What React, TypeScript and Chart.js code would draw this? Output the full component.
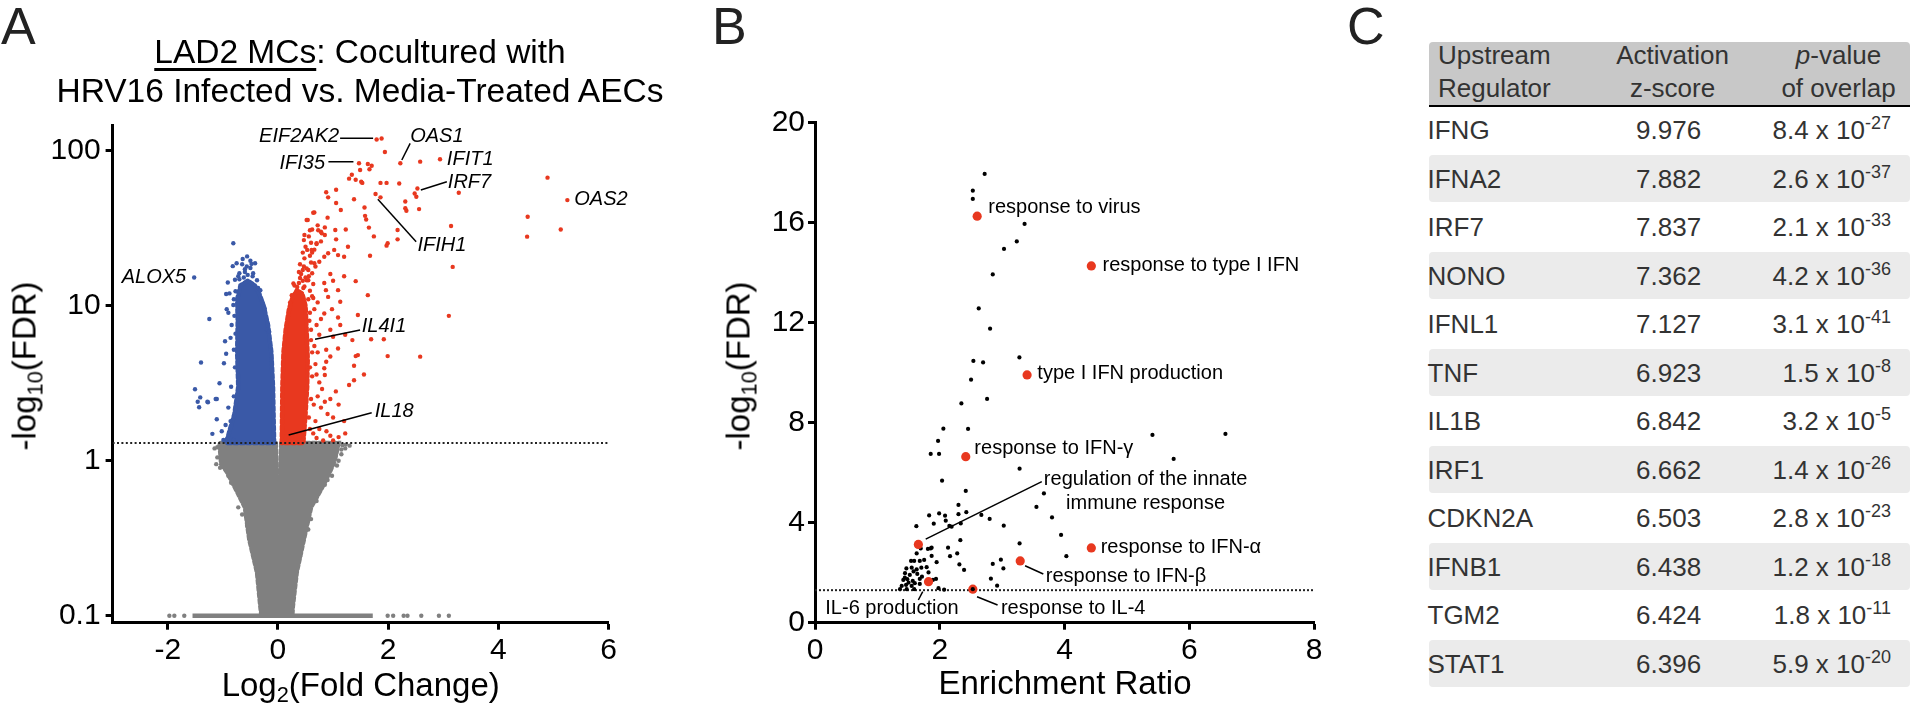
import React, { useEffect, useRef } from 'react';
import { Chart, registerables } from 'chart.js';

Chart.register(...registerables);

const FONT = "'Liberation Sans', Arial, Helvetica, sans-serif";
const RED = '#e8381f';
const BLUE = '#3a59a7';
const GRAY = '#808080';
const INK = '#000';

type Pt = [number, number];
type Label = { text: string; x: number; y: number; align: CanvasTextAlign };

// ---------------- Panel A : volcano plot ----------------
const volcanoXTicks = [-2, 0, 2, 4, 6];
const volcanoYTicks = [0.1, 1, 10, 100];
const fdrCutoff = 1.301;

// dense clouds (outline of the overlapping points)
const grayCloudLeft: Pt[] = [[-0.04, 1.3], [-0.02, 0.7], [0, 0.28], [0, 0.1], [-0.3, 0.1], [-0.32, 0.115], [-0.38, 0.19], [-0.52, 0.31], [-0.6, 0.5], [-0.76, 0.65], [-0.93, 0.85], [-1.03, 0.95], [-1.06, 1.3]];
const grayCloudRight: Pt[] = [[0.06, 1.3], [0.03, 0.7], [0, 0.28], [0, 0.1], [0.26, 0.1], [0.27, 0.115], [0.34, 0.19], [0.47, 0.31], [0.6, 0.5], [0.78, 0.65], [0.93, 0.83], [1.03, 1.0], [1.1, 1.3]];
const grayFloorRow: Pt[] = [[-1.55, 0.1], [1.72, 0.1]];
const blueCloud: Pt[] = [[-0.07, 1.3], [-0.09, 3], [-0.12, 5], [-0.18, 7.5], [-0.26, 10], [-0.34, 12], [-0.42, 13.5], [-0.55, 14.5], [-0.68, 13.5], [-0.74, 11], [-0.73, 8], [-0.74, 5], [-0.72, 3], [-0.79, 2], [-0.87, 1.6], [-0.94, 1.3]];
const redCloud: Pt[] = [[0.07, 1.3], [0.08, 3], [0.1, 5], [0.14, 7], [0.2, 9.5], [0.27, 11.5], [0.35, 12.5], [0.44, 12], [0.5, 10], [0.52, 7], [0.54, 4.5], [0.53, 3], [0.5, 2], [0.46, 1.3]];

// individual genes
const notSignificantGenes: Pt[] = [[-1.97, 0.1], [-1.88, 0.1], [-1.7, 0.1], [1.99, 0.1], [2.09, 0.1], [2.28, 0.1], [2.35, 0.1], [2.6, 0.1], [2.92, 0.1], [3.1, 0.1], [-1.12, 0.95], [-1.05, 0.9], [-0.98, 0.92], [-1.1, 1.05], [-1.15, 1.2], [-0.9, 0.8], [-0.85, 0.72], [-0.7, 0.6], [-0.65, 0.45], [1.3, 1.25], [1.22, 1.2], [1.15, 1.1], [1.1, 1.0], [1.07, 0.93], [0.98, 0.8], [0.9, 0.75], [0.85, 0.7], [0.7, 0.55], [0.6, 0.42], [0.55, 0.36], [0.84, 0.77], [1.17, 1.26], [1.23, 1.27], [-1.1, 1.22], [-1.0, 1.15], [1.15, 1.18], [-0.56, 0.38], [-0.45, 0.25], [0.4, 0.24], [-0.72, 0.5]];
const downGenes: Pt[] = [
  [-0.81, 25.3], [-0.75, 18.8], [-0.566, 17.9], [-0.415, 18.8], [-0.91, 14.1], [-0.94, 11.9], [-1.52, 15.2], [-1.245, 8.2], [-0.93, 9.5], [-0.78, 14.7],
  [-0.96, 5.9], [-0.94, 4.9], [-0.98, 4.25], [-1.06, 3.16], [-1.11, 2.5], [-1.27, 2.38], [-1.43, 2.21], [-1.11, 1.85], [-1.19, 1.49], [-1.41, 2.56],
  [-1.505, 2.89], [-1.396, 4.3], [-1.456, 2.4], [-1.28, 2.4], [-1.13, 2.5], [-0.99, 1.36], [-0.92, 1.38], [-0.81, 1.36], [-0.86, 6.2], [-0.82, 18],
  [-0.64, 20], [-0.5, 19.5], [-0.72, 15.5], [-0.88, 12], [-0.9, 9], [-0.85, 3], [-0.9, 2.2], [-0.95, 1.7], [-1.02, 1.55], [-0.86, 1.8],
  [-0.8, 2.6], [-0.84, 7.5], [-0.8, 11], [-0.56, 20.8], [-0.46, 15.5], [-0.36, 13], [-0.2, 7], [-0.14, 5.5], [-0.28, 10.5], [-0.6, 16.5],
  [-0.45, 16.2], [-0.5, 17.5], [-0.6, 17.2], [-0.7, 16.2], [-0.55, 15.8], [-0.38, 14.6], [-0.65, 18.5], [-0.48, 18.6], [-0.7, 14.8], [-0.62, 15.2],
  [-0.78, 4.0], [-0.8, 5.2], [-0.77, 6.6], [-0.79, 8.6], [-0.81, 10.1], [-0.77, 12.4], [-0.32, 12.6], [-0.24, 9.6], [-0.16, 6.8], [-0.12, 4.5],
];
const upGenes: Pt[] = [
  [1.79, 118], [1.88, 120], [1.94, 98], [1.47, 83], [1.63, 82], [1.7, 80], [1.49, 75], [1.66, 76], [2.22, 83], [2.58, 85], [2.94, 88],
  [1.34, 70], [1.29, 66], [1.41, 65], [1.51, 63], [1.53, 62], [1.86, 62], [1.97, 62], [2.2, 61.5], [2.53, 57], [2.51, 50.5], [2.48, 53], [3.28, 53.6],
  [4.89, 67], [5.25, 48], [4.53, 37.5], [4.52, 27.9], [5.13, 31], [3.14, 32.7], [3.17, 17.8], [3.1, 8.6],
  [1.77, 52.6], [1.86, 50], [2.31, 47], [2.31, 42.5], [2.33, 41], [2.56, 42], [2.17, 30.8], [2.17, 26.8], [1.99, 25.3], [1.97, 24.4], [1.67, 21], [1.74, 28], [1.65, 31.9], [1.57, 43], [1.58, 38], [1.6, 36], [1.38, 48.6], [1.14, 41.4],
  [0.875, 54], [1.055, 56], [0.91, 50], [1.055, 46], [0.66, 40], [0.54, 35.7], [0.9, 37], [0.85, 32], [0.62, 31], [0.48, 28.6], [0.47, 26.5], [0.78, 30], [0.85, 28.6], [1.04, 30.8], [1.23, 31], [1.055, 26.8], [1.02, 22.9], [1.27, 24], [1.2, 20.7], [1.09, 21.2], [0.91, 21.8], [0.84, 20.7], [0.75, 19.2], [0.66, 18.8], [0.68, 17.9], [0.48, 20.2], [0.47, 17.9],
  [1.41, 14.4], [1.63, 11.7], [1.45, 8.7], [1.09, 12.6], [1.13, 10.6], [1.09, 8.4], [1.13, 7.5], [0.84, 14], [0.87, 12.6], [0.91, 11.4], [0.84, 8.9], [0.52, 14.6], [0.48, 13.3], [0.62, 16.2],
  [1.69, 6.07], [1.92, 6.07], [1.41, 4.73], [1.09, 5.3], [0.875, 5.2], [2.58, 4.69], [1.99, 4.73], [0.95, 4.7], [0.875, 4.35], [0.84, 3.95], [0.85, 3.57], [1.45, 4.8], [1.38, 4.1], [1.56, 3.6], [1.38, 3.3], [1.29, 3.08],
  [0.75, 3.2], [0.8, 2.9], [0.72, 2.6], [0.85, 2.4], [0.78, 2.2], [0.95, 2.5], [1.05, 2.8], [1.1, 2.3], [0.9, 2.0], [1.0, 1.9], [1.2, 1.8], [0.68, 1.8], [0.75, 1.6], [0.88, 1.55], [0.95, 1.45], [1.1, 1.42], [1.22, 1.5], [0.7, 1.4], [0.82, 1.35], [1.0, 1.35], [0.65, 2.3],
  [0.7, 3.6], [0.68, 4.2], [0.72, 5.0], [0.66, 5.5], [0.75, 6.5], [0.7, 7.5], [0.78, 8.2], [0.66, 9.5], [0.72, 10.5], [0.62, 11.5], [0.58, 12.5], [0.64, 13.8], [0.56, 15.5], [0.55, 17.0], [0.6, 19.0], [0.58, 21.0], [0.66, 23.0], [0.7, 25.0], [0.6, 25.5], [0.78, 26.0], [0.56, 28.0], [0.72, 33.0], [0.62, 22.0],
  [0.95, 16.0], [1.0, 14.5], [1.2, 15.5], [0.98, 9.5], [0.95, 7.0], [1.22, 6.5], [1.35, 6.0], [1.0, 6.3], [0.45, 22], [0.4, 18.5], [0.5, 24], [0.38, 16.5],
  [0.52, 35.7], [0.64, 39.8], [0.58, 30.7], [0.73, 30.7], [0.795, 29.3], [0.53, 22.9], [0.61, 22.9], [0.45, 17.0], [0.52, 17.4], [0.7, 25.3], [0.25, 11.7], [0.28, 13.9], [0.4, 15.1], [0.34, 12.6], [0.46, 13.0], [0.55, 14.6], [0.64, 11.2],
  [0.3, 13.5], [0.38, 14.0], [0.45, 14.5], [0.42, 16.0], [0.5, 15.2], [0.58, 9.0], [0.6, 6.0], [0.62, 3.5], [0.6, 2.5], [0.58, 1.6], [0.64, 1.5], [0.62, 5.0], [0.57, 8.0], [0.55, 11.0], [0.56, 1.9], [0.58, 4.0], [0.6, 7.0], [0.35, 13.2], [0.22, 10.5],
];

const volcanoLabels: Label[] = [
  { text: 'EIF2AK2', x: 1.109, y: 123, align: 'right' },
  { text: 'OAS1', x: 2.398, y: 124.4, align: 'left' },
  { text: 'IFI35', x: 0.855, y: 82.9, align: 'right' },
  { text: 'IFIT1', x: 3.064, y: 88.1, align: 'left' },
  { text: 'IRF7', x: 3.082, y: 62.2, align: 'left' },
  { text: 'OAS2', x: 5.375, y: 48.6, align: 'left' },
  { text: 'IFIH1', x: 2.53, y: 24.6, align: 'left' },
  { text: 'IL4I1', x: 1.521, y: 7.32, align: 'left' },
  { text: 'IL18', x: 1.757, y: 2.07, align: 'left' },
  { text: 'ALOX5', x: -2.835, y: 15.2, align: 'left' },
];
const volcanoLeaders: Pt[][] = [
  [[1.127, 120.5], [1.726, 120.5]],
  [[2.398, 111.6], [2.247, 87.1]],
  [[0.915, 84.9], [1.369, 84.9]],
  [[2.592, 55.8], [3.064, 63.1]],
  [[1.812, 48.6], [2.507, 25.9]],
  [[0.673, 6.07], [1.49, 6.97]],
  [[0.194, 1.465], [1.7, 2.04]],
];

// ---------------- Panel B : enrichment ----------------
const enrichXTicks = [0, 2, 4, 6, 8];
const enrichYTicks = [0, 4, 8, 12, 16, 20];
const enrichedTerms: Pt[] = [
  [2.72, 17.95], [2.53, 17.28], [2.53, 16.95], [3.36, 15.95], [3.235, 15.25], [3.03, 14.95], [2.85, 13.93], [2.625, 12.57], [2.807, 11.76], [3.277, 10.61],
  [2.539, 10.47], [2.695, 10.41], [2.502, 9.72], [2.759, 8.95], [2.347, 8.77], [2.058, 7.76], [2.454, 7.75], [5.41, 7.51], [6.58, 7.55], [1.973, 7.27],
  [1.855, 6.75], [1.989, 6.75], [5.75, 6.55], [3.28, 6.16], [2.037, 5.68], [2.417, 5.27], [3.67, 5.17], [3.55, 4.63], [2.3, 4.71], [1.83, 4.29],
  [1.99, 4.37], [2.085, 4.28], [2.3, 4.34], [2.426, 4.42], [2.667, 4.31], [2.8, 4.15], [1.904, 3.96], [2.096, 4.08], [2.154, 3.87], [2.19, 3.84],
  [2.337, 3.97], [3.026, 3.88], [3.8, 4.21], [1.625, 3.86], [3.945, 3.51], [2.33, 3.3], [3.28, 3.17], [1.695, 2.97], [1.855, 2.97], [2.133, 3.0],
  [2.28, 2.77], [4.03, 2.66], [1.87, 2.67], [2.165, 2.66], [1.63, 2.77], [2.98, 2.52], [2.85, 2.35], [3.02, 2.17], [2.315, 2.33], [2.39, 2.11],
  [1.95, 2.42], [2.82, 1.76], [2.92, 1.48], [1.81, 2.95], [1.87, 3.0], [1.59, 2.47], [1.54, 2.47], [1.68, 2.47], [1.75, 2.51], [1.465, 2.17],
  [1.55, 2.2], [1.63, 2.13], [1.705, 2.2], [1.79, 2.22], [1.82, 2.01], [1.443, 1.98], [1.52, 1.91], [1.64, 1.95], [1.715, 1.84], [1.416, 1.71],
  [1.48, 1.74], [1.567, 1.67], [1.89, 1.71], [1.94, 1.75], [1.39, 1.47], [1.46, 1.51], [1.55, 1.47], [1.68, 1.55], [1.363, 1.34], [1.47, 1.34],
  [1.59, 1.34], [1.98, 1.38], [2.07, 1.32], [1.5, 1.6], [1.6, 1.58], [1.44, 1.8], [1.58, 2.05], [1.68, 1.75],
];
const highlightedTerms: Pt[] = [[2.6, 16.26], [4.43, 14.27], [3.4, 9.91], [2.417, 6.64], [1.657, 3.13], [4.43, 2.99], [3.29, 2.47], [1.82, 1.64], [2.53, 1.34]];
const termsAboveHighlight: Pt[] = [[2.53, 1.34]];
const enrichLabels: Label[] = [
  { text: 'response to virus', x: 2.778, y: 16.62, align: 'left' },
  { text: 'response to type I IFN', x: 4.61, y: 14.28, align: 'left' },
  { text: 'type I IFN production', x: 3.565, y: 9.95, align: 'left' },
  { text: 'response to IFN-\u03b3', x: 2.555, y: 6.95, align: 'left' },
  { text: 'regulation of the innate', x: 5.3, y: 5.71, align: 'center' },
  { text: 'immune response', x: 5.3, y: 4.75, align: 'center' },
  { text: 'response to IFN-\u03b1', x: 4.58, y: 2.99, align: 'left' },
  { text: 'response to IFN-\u03b2', x: 3.7, y: 1.84, align: 'left' },
  { text: 'IL-6 production', x: 0.165, y: 0.576, align: 'left' },
  { text: 'response to IL-4', x: 2.98, y: 0.576, align: 'left' },
];
const enrichLeaders: Pt[][] = [
  [[1.775, 3.34], [3.636, 5.64]],
  [[3.368, 2.28], [3.66, 1.95]],
  [[1.727, 1.24], [1.657, 0.908]],
  [[2.598, 1.04], [2.927, 0.708]],
];

// ---------------- Panel C : table ----------------
const regulators = ['IFNG', 'IFNA2', 'IRF7', 'NONO', 'IFNL1', 'TNF', 'IL1B', 'IRF1', 'CDKN2A', 'IFNB1', 'TGM2', 'STAT1'];
const zScores = ['9.976', '7.882', '7.837', '7.362', '7.127', '6.923', '6.842', '6.662', '6.503', '6.438', '6.424', '6.396'];
const pMantissa = ['8.4', '2.6', '2.1', '4.2', '3.1', '1.5', '3.2', '1.4', '2.8', '1.2', '1.8', '5.9'];
const pExponent = ['-27', '-37', '-33', '-36', '-41', '-8', '-5', '-26', '-23', '-18', '-11', '-20'];

// ---------------- helpers ----------------
const toXY = (a: Pt[]) => a.map(([x, y]) => ({ x, y }));

function textPlugin(id: string, labels: Label[], font: string) {
  return {
    id,
    afterDatasetsDraw(chart: any) {
      const { ctx, scales } = chart;
      ctx.save();
      ctx.font = font;
      ctx.fillStyle = '#000';
      ctx.textBaseline = 'middle';
      labels.forEach((l) => {
        ctx.textAlign = l.align;
        ctx.fillText(l.text, scales.x.getPixelForValue(l.x), scales.y.getPixelForValue(l.y));
      });
      ctx.restore();
    },
  };
}

// speckled outline mimics the edge of a dense cloud of dots
const polygon = (data: Pt[], color: string, order: number) => ({
  type: 'line',
  data: toXY([...data, data[0]]),
  borderColor: color,
  backgroundColor: color,
  borderWidth: 4.5,
  borderDash: [4, 2.5],
  borderCapStyle: 'round',
  pointRadius: 0,
  fill: 'shape',
  tension: 0,
  order,
});
const dots = (data: Pt[], color: string, r: number, order: number) => ({
  type: 'scatter',
  data: toXY(data),
  backgroundColor: color,
  pointBackgroundColor: color,
  pointBorderWidth: 0,
  borderWidth: 0,
  pointRadius: r,
  pointHoverRadius: r,
  order,
});
const segment = (data: Pt[], color: string, width: number, order: number, dash: number[] = []) => ({
  type: 'line',
  data: toXY(data),
  borderColor: color,
  borderWidth: width,
  borderDash: dash,
  pointRadius: 0,
  fill: false,
  tension: 0,
  order,
});

const axisCommon = (tickPad: number) => ({
  grid: { drawOnChartArea: false, drawTicks: true, tickLength: 7, tickWidth: 3, tickColor: INK, color: INK },
  border: { display: true, color: INK, width: 3 },
  ticks: { color: INK, font: { family: FONT, size: 30 }, autoSkip: false, maxRotation: 0, padding: tickPad, callback: (v: any) => String(v) },
});

function volcanoConfig(): any {
  return {
    type: 'scatter',
    data: {
      datasets: [
        polygon(grayCloudLeft, GRAY, 40),
        polygon(grayCloudRight, GRAY, 40),
        segment(grayFloorRow, GRAY, 4.5, 40),
        dots(notSignificantGenes, GRAY, 2.2, 39),
        polygon(blueCloud, BLUE, 30),
        dots(downGenes, BLUE, 2.2, 29),
        polygon(redCloud, RED, 28),
        dots(upGenes, RED, 2.2, 27),
        segment([[-3, fdrCutoff], [6, fdrCutoff]], '#222', 2, 5, [2, 2.4]),
        ...volcanoLeaders.map((l) => segment(l, '#000', 1.5, 1)),
      ],
    },
    options: {
      responsive: false,
      animation: false,
      events: [],
      layout: { padding: { left: 0, right: 31.3, top: 125, bottom: 0 } },
      plugins: { legend: { display: false }, tooltip: { enabled: false } },
      scales: {
        x: {
          type: 'linear', min: -3, max: 6, bounds: 'data',
          ...axisCommon(3),
          afterBuildTicks: (s: any) => { s.ticks = volcanoXTicks.map((v) => ({ value: v })); },
          afterFit: (s: any) => { s.height = 84.3; },
        },
        y: {
          type: 'logarithmic', min: 0.0901, max: 146.5, bounds: 'data',
          ...axisCommon(5),
          afterBuildTicks: (s: any) => { s.ticks = volcanoYTicks.map((v) => ({ value: v })); },
          afterFit: (s: any) => { s.width = 112.6; },
        },
      },
    },
    plugins: [textPlugin('volcanoLabels', volcanoLabels, `italic 20px ${FONT}`)],
  };
}

function enrichConfig(): any {
  return {
    type: 'scatter',
    data: {
      datasets: [
        segment([[0, fdrCutoff], [8, fdrCutoff]], '#222', 2, 40, [2, 2]),
        dots(enrichedTerms, '#000', 2.1, 20),
        dots(highlightedTerms, RED, 4.6, 10),
        dots(termsAboveHighlight, '#000', 2.1, 9),
        ...enrichLeaders.map((l) => segment(l, '#000', 1.5, 1)),
      ],
    },
    options: {
      responsive: false,
      animation: false,
      events: [],
      layout: { padding: { left: 0, right: 26, top: 122.7, bottom: 0 } },
      plugins: { legend: { display: false }, tooltip: { enabled: false } },
      scales: {
        x: {
          type: 'linear', min: 0, max: 8, bounds: 'data',
          ...axisCommon(3),
          afterBuildTicks: (s: any) => { s.ticks = enrichXTicks.map((v) => ({ value: v })); },
          afterFit: (s: any) => { s.height = 84.3; },
        },
        y: {
          type: 'linear', min: 0, max: 20, bounds: 'data',
          ...axisCommon(3),
          afterBuildTicks: (s: any) => { s.ticks = enrichYTicks.map((v) => ({ value: v })); },
          afterFit: (s: any) => { s.width = 115; },
        },
      },
    },
    plugins: [textPlugin('enrichLabels', enrichLabels, `20px ${FONT}`)],
  };
}

function ChartCanvas({ make, left, top, width, height }: { make: () => any; left: number; top: number; width: number; height: number }) {
  const ref = useRef<HTMLCanvasElement>(null);
  useEffect(() => {
    const chart = new Chart(ref.current as HTMLCanvasElement, make());
    return () => chart.destroy();
  }, []);
  return <canvas ref={ref} width={width} height={height} style={{ position: 'absolute', left, top, width, height }} />;
}

// text positioned by the visual middle of its capitals
function Txt({ x, y, size, align = 'left', italic = false, color = '#000', children }: any) {
  const shift = align === 'center' ? 'translateX(-50%)' : align === 'right' ? 'translateX(-100%)' : '';
  return (
    <div
      style={{
        position: 'absolute', left: x, top: y - 0.49 * size, fontSize: size, lineHeight: `${size}px`,
        whiteSpace: 'nowrap', transform: shift, fontStyle: italic ? 'italic' : 'normal', color,
      }}
    >
      {children}
    </div>
  );
}

const Sub = ({ children }: any) => (
  <span style={{ fontSize: '0.66em', position: 'relative', top: '0.3em' }}>{children}</span>
);

function VLabel({ x, y, size, children }: any) {
  return (
    <div
      style={{
        position: 'absolute', left: x, top: y, fontSize: size, lineHeight: `${size}px`, whiteSpace: 'nowrap',
        transform: 'translate(-50%, -50%) rotate(-90deg)', color: '#000',
      }}
    >
      {children}
    </div>
  );
}

function RegulatorTable() {
  const left = 1429.4;
  const width = 480.4;
  const rowTop = 105.8;
  const rowH = 48.48;
  const textColor = '#333';
  return (
    <>
      <div style={{ position: 'absolute', left, top: 41.7, width, height: 64.3, background: '#c8c8c8', borderRadius: '4px 4px 0 0' }} />
      <div style={{ position: 'absolute', left, top: 104.8, width, height: 2.6, background: '#000' }} />
      <Txt x={1438} y={55} size={26} color={textColor}>Upstream</Txt>
      <Txt x={1438} y={87.3} size={26} color={textColor}>Regulator</Txt>
      <Txt x={1672.5} y={55} size={26} align="center" color={textColor}>Activation</Txt>
      <Txt x={1672.5} y={87.3} size={26} align="center" color={textColor}>z-score</Txt>
      <Txt x={1838.5} y={55} size={26} align="center" color={textColor}><i>p</i>-value</Txt>
      <Txt x={1838.5} y={87.3} size={26} align="center" color={textColor}>of overlap</Txt>
      {regulators.map((name, i) => {
        const top = rowTop + i * rowH;
        const cy = top + rowH / 2;
        return (
          <React.Fragment key={name}>
            {i % 2 === 1 && (
              <div style={{ position: 'absolute', left, top: top + 0.6, width, height: rowH - 1.2, background: '#ebebeb', borderRadius: 4 }} />
            )}
            <Txt x={1427.5} y={cy} size={26} color={textColor}>{name}</Txt>
            <Txt x={1668.6} y={cy} size={26} align="center" color={textColor}>{zScores[i]}</Txt>
            <Txt x={1891} y={cy} size={26} align="right" color={textColor}>
              {pMantissa[i]} x 10<span style={{ fontSize: 18, position: 'relative', top: -10 }}>{pExponent[i]}</span>
            </Txt>
          </React.Fragment>
        );
      })}
    </>
  );
}

export default function App() {
  return (
    <div
      style={{
        position: 'absolute', left: 0, top: 0, width: 1915, height: 707, background: '#fff', overflow: 'hidden',
        fontFamily: FONT, color: '#000',
      }}
    >
      <ChartCanvas make={volcanoConfig} left={0} top={0} width={640} height={707} />
      <ChartCanvas make={enrichConfig} left={700} top={0} width={640} height={707} />

      {/* panel letters */}
      <Txt x={1} y={25} size={52} color="#222">A</Txt>
      <Txt x={712} y={25} size={52} color="#222">B</Txt>
      <Txt x={1347} y={25} size={52} color="#222">C</Txt>

      {/* panel A title */}
      <Txt x={360} y={51.3} size={33.5} align="center">
        <span style={{ textDecoration: 'underline', textDecorationThickness: '2.5px', textUnderlineOffset: '5px' }}>LAD2 MCs</span>: Cocultured with
      </Txt>
      <Txt x={360} y={90.5} size={33.5} align="center">HRV16 Infected vs. Media-Treated AECs</Txt>

      {/* axis titles */}
      <VLabel x={26} y={366} size={33}>-log<Sub>10</Sub>(FDR)</VLabel>
      <Txt x={360.7} y={684} size={33} align="center">Log<Sub>2</Sub>(Fold Change)</Txt>
      <VLabel x={740} y={366} size={33}>-log<Sub>10</Sub>(FDR)</VLabel>
      <Txt x={1065} y={682.5} size={33} align="center">Enrichment Ratio</Txt>

      <RegulatorTable />
    </div>
  );
}
